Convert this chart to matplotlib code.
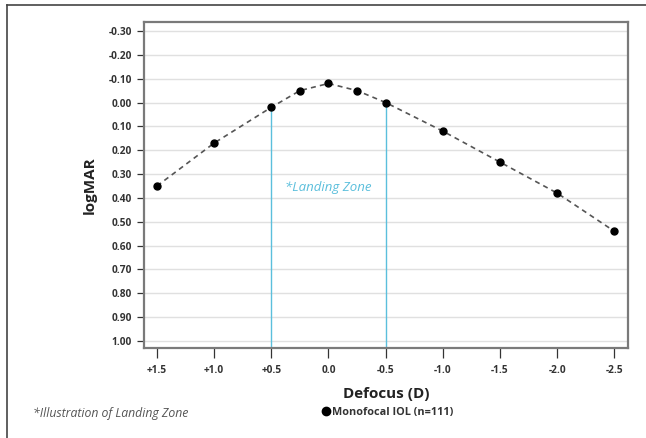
import matplotlib
matplotlib.use('Agg')
import matplotlib.pyplot as plt
from matplotlib.lines import Line2D

plt.rcParams['font.family'] = ['Open Sans', 'DejaVu Sans']

# defocus (D) and mean logMAR
defocus = [1.5, 1.0, 0.5, 0.25, 0.0, -0.25, -0.5, -1.0, -1.5, -2.0, -2.5]
logmar = [0.35, 0.17, 0.02, -0.05, -0.08, -0.05, 0.00, 0.12, 0.25, 0.38, 0.54]

x_ticks = [1.5, 1.0, 0.5, 0.0, -0.5, -1.0, -1.5, -2.0, -2.5]
x_labels = ['+1.5', '+1.0', '+0.5', '0.0', '-0.5', '-1.0', '-1.5', '-2.0', '-2.5']
y_ticks = [-0.3, -0.2, -0.1, 0.0, 0.1, 0.2, 0.3, 0.4, 0.5, 0.6, 0.7, 0.8, 0.9, 1.0]
y_labels = ['-0.30', '-0.20', '-0.10', '0.00', '0.10', '0.20', '0.30', '0.40',
            '0.50', '0.60', '0.70', '0.80', '0.90', '1.00']

# landing zone edges
zone_x = [0.5, -0.5]
zone_y = [0.02, 0.00]

blue = '#5bbfdc'
spine_col = '#7a7a7a'

fig = plt.figure(figsize=(6.46, 4.38), dpi=100)
ax = fig.add_axes([0.2229, 0.2055, 0.7492, 0.7443])

ax.set_xlim(1.614, -2.62)
ax.set_ylim(1.03, -0.338)

for y in y_ticks:
    ax.axhline(y, color='#e0e0e0', lw=1.0, zorder=0)

ax.vlines(zone_x, zone_y, 1.03, color=blue, lw=1.0, zorder=1)
ax.text(0.0, 0.355, '*Landing Zone', color=blue, style='italic', fontsize=9.5,
        ha='center', va='center')

ax.plot(defocus, logmar, ls=(0, (3, 2.5)), color='#555555', lw=1.2, zorder=2)
ax.plot(defocus, logmar, 'o', color='black', ms=5, zorder=3)

ax.set_xticks(x_ticks)
ax.set_xticklabels(x_labels)
ax.set_yticks(y_ticks)
ax.set_yticklabels(y_labels)
ax.tick_params(axis='both', labelsize=7.3, colors='#333333', length=5, width=0.9)
ax.tick_params(axis='x', length=7, pad=5)
for lab in ax.get_xticklabels() + ax.get_yticklabels():
    lab.set_fontweight('bold')
for s in ax.spines.values():
    s.set_color(spine_col)
    s.set_linewidth(1.6)

ax.set_xlabel('Defocus (D)', fontsize=11, fontweight='bold', color='#222222', labelpad=8)
ax.set_ylabel('logMAR', fontsize=11, fontweight='bold', color='#222222', labelpad=9)

fig.text(33 / 646, 1 - 413 / 438, '*Illustration of Landing Zone', style='italic',
         fontsize=8.8, color='#555555', va='center')
fig.add_artist(Line2D([326 / 646], [1 - 411 / 438], marker='o', color='black', ms=6,
                      transform=fig.transFigure))
fig.text(332 / 646, 1 - 413 / 438, 'Monofocal IOL (n=111)', fontsize=7.8,
         fontweight='bold', color='#333333', va='center')

# outer frame (left and top edges)
fig.add_artist(Line2D([7 / 646, 7 / 646], [0, 1 - 5 / 438], color='#444444', lw=1.2,
                      transform=fig.transFigure))
fig.add_artist(Line2D([7 / 646, 1], [1 - 5 / 438, 1 - 5 / 438], color='#444444', lw=1.2,
                      transform=fig.transFigure))

fig.savefig('out.png', dpi=100)
